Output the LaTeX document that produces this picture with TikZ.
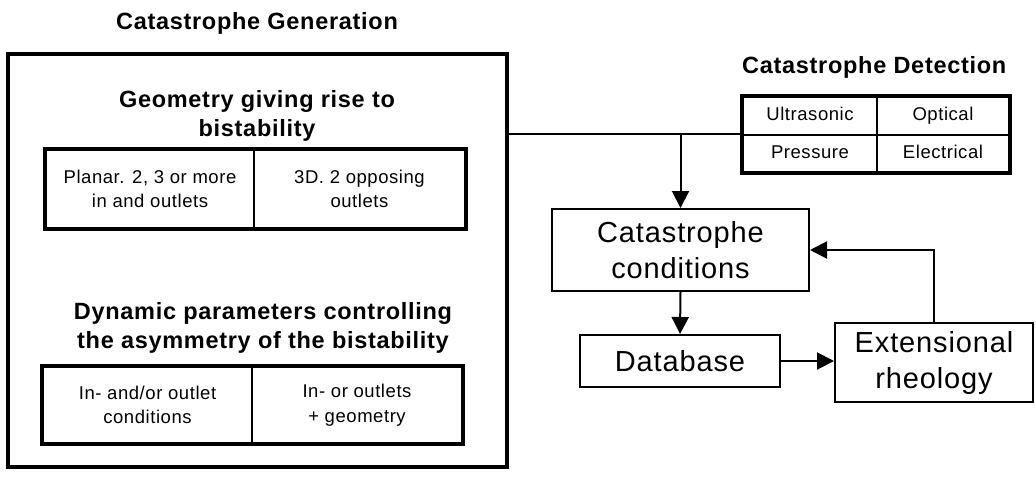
\documentclass[tikz,border=0pt]{standalone}
\usepackage{fontspec}
\setmainfont[LetterSpace=3]{Liberation Sans}
\usetikzlibrary{arrows.meta}
\newcommand\xTitle{\fontsize{23.5}{29.5}\selectfont\bfseries}
\newcommand\xCell{\fontsize{18.5}{24.5}\selectfont}
\newcommand\xBig{\fontsize{29}{36}\selectfont}
\begin{document}
\begin{tikzpicture}[x=1pt,y=-1pt,
  ttl/.style={font=\xTitle, inner sep=0pt, align=center},
  cell/.style={draw, line width=1.8pt, inner sep=0pt, align=center, font=\xCell},
  dcell/.style={cell, text height=13.5pt, text depth=4pt},
  frame/.style={line width=3.4pt},
  bigbox/.style={draw, line width=2pt, inner sep=0pt, align=center, font=\xBig},
  conn/.style={line width=2pt},
  arr/.style={line width=2pt, -{Triangle[length=17pt,width=17pt]}}]
\useasboundingbox (0,0) rectangle (1036,477);
% Generation block
\node[draw, line width=4.2pt, minimum width=499pt, minimum height=413pt, inner sep=0pt] (gen) at (257.5,260.5) {};
\node[ttl] (genT) at (257,23) {Catastrophe Generation};
\node[ttl] (geoT) at (257,116) {Geometry giving rise to\\bistability};
\node[cell, minimum width=208pt, minimum height=78pt] (geoA) at (150,189) {Planar. 2, 3 or more\\in and outlets};
\node[cell, minimum width=211pt, minimum height=78pt] (geoB) at (359.5,189) {3D. 2 opposing\\outlets};
\draw[frame] (geoA.north west) rectangle (geoB.south east);
\node[ttl] (dynT) at (263,328) {Dynamic parameters controlling\\the asymmetry of the bistability};
\node[cell, minimum width=209pt, minimum height=76pt] (dynA) at (147.5,405) {In- and/or outlet\\conditions};
\node[cell, minimum width=210pt, minimum height=76pt] (dynB) at (357,405) {In- or outlets\\+ geometry};
\draw[frame] (dynA.north west) rectangle (dynB.south east);
% Detection block
\node[ttl, anchor=west] (detT) at (742,67) {Catastrophe Detection};
\node[dcell, minimum width=134pt, minimum height=38pt] (d11) at (810,116) {Ultrasonic};
\node[dcell, minimum width=132pt, minimum height=38pt] (d12) at (943,116) {Optical};
\node[dcell, minimum width=134pt, minimum height=37pt] (d21) at (810,153.5) {Pressure};
\node[dcell, minimum width=132pt, minimum height=37pt] (d22) at (943,153.5) {Electrical};
\draw[frame] (d11.north west) rectangle (d22.south east);
% Flow
\node[bigbox, minimum width=257pt, minimum height=82pt] (cond) at (680.5,250) {Catastrophe\\conditions};
\node[bigbox, minimum width=200pt, minimum height=52pt] (db) at (680,361) {Database};
\node[bigbox, minimum width=198pt, minimum height=79pt] (ext) at (934,362.5) {Extensional\\rheology};
\coordinate (j) at (cond.north |- d21.north west);
\draw[conn] (gen.east |- d21.north west) -- (d21.north west);
\draw[arr] (j) -- (cond.north);
\draw[arr] (cond.south) -- (db.north);
\draw[arr] (db.east) -- (db.east -| ext.west);
\draw[arr] (ext.north) |- (cond.east);
\end{tikzpicture}
\end{document}
